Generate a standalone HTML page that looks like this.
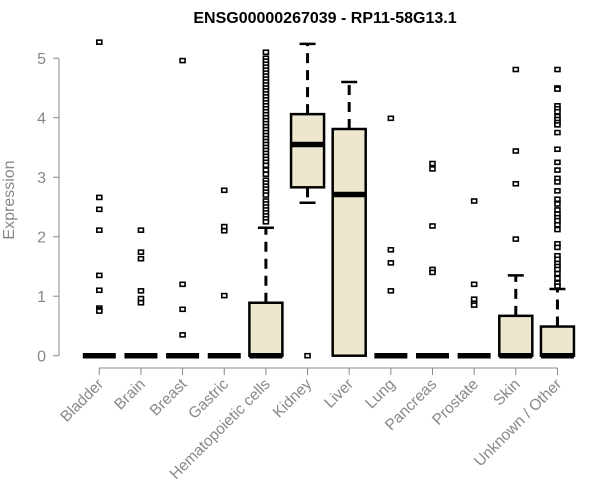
<!DOCTYPE html>
<html><head><meta charset="utf-8"><style>
body{margin:0;background:#fff;}
svg{display:block;font-family:"Liberation Sans",Arial,sans-serif;}
</style></head><body>
<svg id="chart" width="600" height="500">
<text x="325" y="23" text-anchor="middle" font-weight="bold" font-size="16" fill="#000">ENSG00000267039 - RP11-58G13.1</text>
<text transform="translate(14,200) rotate(-90)" text-anchor="middle" font-size="16" fill="#888">Expression</text>
<g id="axes"></g><g id="boxes"></g>
</svg>
<script>
const categories=["Bladder","Brain","Breast","Gastric","Hematopoietic cells","Kidney","Liver","Lung","Pancreas","Prostate","Skin","Unknown / Other"];
const q1=[0,0,0,0,0,2.83,0,0,0,0,0,0];
const medians=[0,0,0,0,0,3.55,2.71,0,0,0,0,0];
const q3=[0,0,0,0,0.89,4.06,3.81,0,0,0,0.67,0.49];
const whiskerLow=[0,0,0,0,0,2.57,0,0,0,0,0,0];
const whiskerHigh=[0,0,0,0,2.15,5.24,4.6,0,0,0,1.35,1.12];
const outliers=[
[5.27,2.66,2.46,2.11,1.35,1.1,0.8,0.77,0.75],
[2.11,1.74,1.63,1.09,0.96,0.89],
[4.96,1.2,0.78,0.35],
[2.78,2.17,2.1,1.01],
[5.1,5.0,4.95,4.9,4.85,4.8,4.75,4.7,4.65,4.6,4.55,4.5,4.45,4.4,4.35,4.3,4.25,4.2,4.15,4.1,4.05,4.0,3.95,3.9,3.85,3.8,3.75,3.7,3.65,3.6,3.55,3.5,3.45,3.4,3.35,3.3,3.25,3.2,3.12,3.05,2.95,2.9,2.85,2.8,2.75,2.7,2.6,2.55,2.5,2.45,2.4,2.35,2.3,2.25],
[0],
[],
[3.99,1.78,1.56,1.09],
[3.23,3.14,2.18,1.45,1.4],
[2.6,1.2,0.95,0.88,0.85],
[4.81,3.44,2.89,1.96],
[4.81,4.5,4.48,4.2,4.15,4.1,4.02,3.97,3.92,3.88,3.75,3.47,3.25,3.12,2.98,2.92,2.77,2.63,2.55,2.45,2.38,2.32,2.27,2.2,2.12,1.88,1.82,1.68,1.62,1.55,1.5,1.45,1.38,1.3,1.22,1.17]
];
const yTicks=[0,1,2,3,4,5];
const NS="http://www.w3.org/2000/svg";
const y=v=>355.7-v*59.5;
const x=i=>99.3+i*41.65;
const axes=document.getElementById('axes'),boxes=document.getElementById('boxes');
function mk(tag,attrs,parent){const e=document.createElementNS(NS,tag);for(const k in attrs)e.setAttribute(k,attrs[k]);parent.appendChild(e);return e;}
let yl=mk('line',{x1:59,x2:59,y1:y(0),y2:y(5),stroke:'#888'},axes);


yTicks.forEach(t=>{
 let tk=mk('line',{x1:53,x2:59,y1:y(t),y2:y(t),stroke:'#888'},axes);
 
 
 let tl=mk('text',{x:46,y:y(t)+6,'text-anchor':'end','font-size':16,fill:'#888'},axes);
 tl.textContent=t;
 
 
});
let xl=mk('line',{x1:x(0),x2:x(11),y1:368,y2:368,stroke:'#888'},axes);


categories.forEach((c,i)=>{
 let tk=mk('line',{x1:x(i),x2:x(i),y1:368,y2:375,stroke:'#888'},axes);
 
 
 let tl=mk('text',{transform:`translate(${x(i)+5},${385}) rotate(-45)`,'text-anchor':'end','font-size':15.5,fill:'#888'},axes);
 tl.textContent=c;
 
 
 const g=mk('g',{},boxes);
 
 
 const cx=x(i),hw=16.5;
 if(whiskerHigh[i]>q3[i]){
  mk('line',{x1:cx,x2:cx,y1:y(q3[i]),y2:y(whiskerHigh[i]),stroke:'#000','stroke-width':3,'stroke-dasharray':'10,7'},g);
  mk('line',{x1:cx-8,x2:cx+8,y1:y(whiskerHigh[i]),y2:y(whiskerHigh[i]),stroke:'#000','stroke-width':2.5},g);
 }
 if(whiskerLow[i]<q1[i]){
  mk('line',{x1:cx,x2:cx,y1:y(q1[i]),y2:y(whiskerLow[i]),stroke:'#000','stroke-width':3,'stroke-dasharray':'10,7'},g);
  mk('line',{x1:cx-8,x2:cx+8,y1:y(whiskerLow[i]),y2:y(whiskerLow[i]),stroke:'#000','stroke-width':2.5},g);
 }
 if(q3[i]>q1[i]) mk('rect',{x:cx-hw,y:y(q3[i]),width:2*hw,height:y(q1[i])-y(q3[i]),fill:'#ede7cd',stroke:'#000','stroke-width':2.5},g);
 mk('line',{x1:cx-hw,x2:cx+hw,y1:y(medians[i]),y2:y(medians[i]),stroke:'#000','stroke-width':5.5},g);
 outliers[i].forEach(v=>{
  let p=mk('rect',{x:cx-2.5,y:y(v)-2,width:5,height:4,fill:'#fff',stroke:'#000','stroke-width':1.6},g);
  
  
 });
});
</script>
</body></html>
